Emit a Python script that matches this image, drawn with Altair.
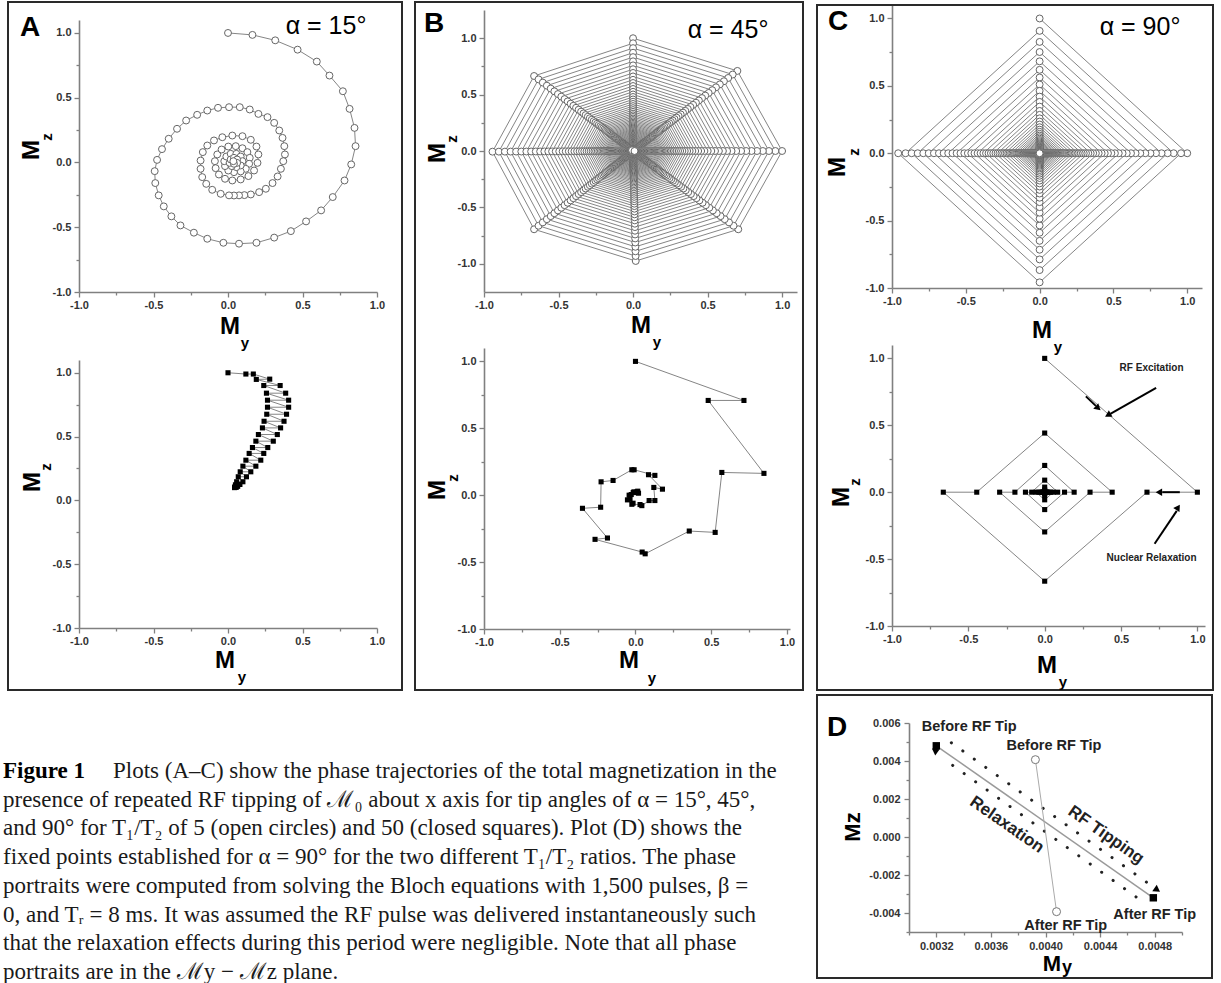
import math
import altair as alt
import pandas as pd

SANS = "Liberation Sans"
SERIF = "Liberation Serif"
AXC = "#808080"
LBL = "#333333"
LINE = "#858585"
CIRC = "#666666"

# ---------------- Panel A : alpha = 15 deg ----------------
A5_my = [0.0, 0.164, 0.317, 0.467, 0.596, 0.681, 0.771, 0.816, 0.849, 0.856, 0.827, 0.782, 0.703, 0.625, 0.524,
         0.422, 0.31, 0.191, 0.074, -0.031, -0.139, -0.229, -0.319, -0.38, -0.431, -0.465, -0.488, -0.492, -0.476,
         -0.443, -0.398, -0.342, -0.281, -0.207, -0.139, -0.067, 0.007, 0.079, 0.146, 0.204, 0.265, 0.31, 0.344,
         0.366, 0.378, 0.382, 0.371, 0.355, 0.333, 0.299, 0.254, 0.209, 0.153, 0.11, 0.074, 0.04, 0.007, -0.049,
         -0.106, -0.146, -0.173, -0.184, -0.184, -0.169, -0.139, -0.094, -0.038, 0.029, 0.097, 0.153, 0.191, 0.204,
         0.198, 0.175, 0.137, 0.085, 0.029, -0.02, -0.061, -0.083, -0.088, -0.072, -0.043, 0.002, 0.052, 0.097,
         0.13, 0.146, 0.142, 0.119, 0.085, 0.04, 0.002, -0.02, -0.025, -0.011, 0.018, 0.056, 0.085, 0.097, 0.085,
         0.056, 0.025, 0.011, 0.018, 0.04, 0.061, 0.061, 0.04, 0.036]
A5_mz = [1.0, 0.985, 0.943, 0.871, 0.779, 0.671, 0.55, 0.414, 0.267, 0.126, -0.015, -0.139, -0.267, -0.37, -0.455,
         -0.53, -0.58, -0.62, -0.627, -0.62, -0.589, -0.542, -0.486, -0.416, -0.339, -0.254, -0.159, -0.067, 0.02,
         0.103, 0.183, 0.26, 0.324, 0.368, 0.401, 0.422, 0.427, 0.427, 0.409, 0.375, 0.35, 0.306, 0.247, 0.19,
         0.126, 0.062, 0.01, -0.049, -0.108, -0.159, -0.203, -0.229, -0.247, -0.252, -0.254, -0.255, -0.254,
         -0.242, -0.211, -0.165, -0.113, -0.049, 0.015, 0.08, 0.131, 0.17, 0.195, 0.208, 0.203, 0.175, 0.123,
         0.062, -0.003, -0.062, -0.105, -0.131, -0.139, -0.126, -0.093, -0.044, 0.01, 0.062, 0.1, 0.123, 0.126,
         0.11, 0.08, 0.036, -0.01, -0.049, -0.069, -0.075, -0.062, -0.028, 0.01, 0.046, 0.067, 0.067, 0.046, 0.01,
         -0.023, -0.036, -0.028, -0.003, 0.023, 0.036, 0.023, -0.003, -0.01, 0.01]

A50_my = [0.0, 0.12, 0.17, 0.28, 0.19, 0.35, 0.24, 0.387, 0.258, 0.407, 0.265, 0.407, 0.265, 0.393, 0.26, 0.376,
          0.242, 0.353, 0.231, 0.331, 0.204, 0.304, 0.187, 0.267, 0.164, 0.24, 0.142, 0.22, 0.12, 0.187, 0.10,
          0.153, 0.082, 0.124, 0.069, 0.10, 0.058, 0.08, 0.05, 0.065, 0.046, 0.055, 0.044]
A50_mz = [1.0, 0.99, 0.99, 0.95, 0.948, 0.90, 0.90, 0.84, 0.84, 0.785, 0.785, 0.73, 0.73, 0.675, 0.675, 0.62,
          0.62, 0.568, 0.568, 0.516, 0.516, 0.464, 0.464, 0.414, 0.414, 0.368, 0.368, 0.315, 0.315, 0.268, 0.268,
          0.224, 0.224, 0.185, 0.185, 0.146, 0.146, 0.125, 0.122, 0.11, 0.106, 0.102, 0.10]

# ---------------- Panel B : alpha = 45 deg ----------------
B5_vert_my = [0.0, 0.70, 1.0, 0.706, 0.018, -0.664, -0.943, -0.664]
B5_vert_mz = [1.0, 0.71, 0.0, -0.694, -0.975, -0.694, -0.006, 0.665]
B5_ring = [1.0, 0.955, 0.912, 0.871, 0.832, 0.795, 0.759, 0.725, 0.692, 0.661, 0.631, 0.603, 0.576, 0.55,
           0.525, 0.501, 0.479, 0.457, 0.437, 0.417, 0.398, 0.38, 0.363, 0.347, 0.331, 0.316, 0.302, 0.288,
           0.275, 0.263, 0.251, 0.24, 0.229, 0.219, 0.209, 0.2, 0.192, 0.184, 0.176, 0.168, 0.16, 0.152, 0.144,
           0.137, 0.13, 0.123, 0.116, 0.11, 0.104, 0.098, 0.092, 0.086, 0.08, 0.075, 0.07, 0.065, 0.06, 0.055,
           0.05, 0.045, 0.04, 0.035, 0.03, 0.026, 0.022, 0.018, 0.014, 0.01]

B50_my = [0.0, 0.716, 0.48, 0.848, 0.57, 0.526, 0.355, 0.064, 0.044, -0.267, -0.185, -0.35, -0.23, -0.227,
          -0.148, -0.024, -0.009, 0.128, 0.086, 0.178, 0.121, 0.128, 0.09, 0.042, 0.03, -0.024, -0.016, -0.053,
          -0.036, -0.042, -0.028, -0.015, -0.01, 0.01, 0.015, 0.02, 0.01, 0.005]
B50_mz = [1.0, 0.708, 0.708, 0.163, 0.17, -0.278, -0.268, -0.438, -0.425, -0.33, -0.32, -0.098, -0.09, 0.10,
          0.11, 0.19, 0.19, 0.148, 0.153, 0.045, 0.058, -0.04, -0.04, -0.078, -0.07, -0.068, -0.06, -0.035,
          -0.03, 0.0, 0.005, 0.02, 0.025, 0.025, 0.03, 0.015, 0.02, 0.02]

# ---------------- Panel C : alpha = 90 deg ----------------
C5_top = [1.0, 0.908, 0.826, 0.751, 0.682, 0.619, 0.562, 0.51, 0.463, 0.42, 0.381, 0.346, 0.314, 0.285, 0.259,
          0.235, 0.213, 0.193, 0.175, 0.159, 0.144, 0.131, 0.119, 0.108, 0.098, 0.089, 0.081, 0.073, 0.066,
          0.06, 0.054, 0.049, 0.044, 0.04, 0.036, 0.032, 0.029, 0.026, 0.023, 0.02, 0.017, 0.014, 0.011, 0.008,
          0.005]
C5_mid = [0.958, 0.867, 0.788, 0.716, 0.65, 0.59, 0.536, 0.486, 0.441, 0.4, 0.363, 0.33, 0.299, 0.272, 0.247,
          0.224, 0.203, 0.184, 0.167, 0.152, 0.138, 0.125, 0.113, 0.103, 0.093, 0.085, 0.077, 0.07, 0.063,
          0.057, 0.051, 0.046, 0.042, 0.038, 0.034, 0.031, 0.027, 0.024, 0.021, 0.018, 0.015, 0.012, 0.009,
          0.006]

C50_my = [0.0, 1.0, 0.67, 0.0, -0.664, -0.445, 0.0, 0.442, 0.297, 0.0, -0.295, -0.195, 0.0, 0.193, 0.13, 0.0,
          -0.126, -0.085, 0.0, 0.085, 0.057, 0.0, -0.057, -0.038, 0.0, 0.038, 0.025, 0.0, -0.025, -0.017, 0.0,
          0.017, 0.011, 0.0, -0.011, -0.007, 0.0]
C50_mz = [1.0, 0.0, 0.0, -0.665, 0.0, 0.0, 0.442, 0.0, 0.0, -0.297, 0.0, 0.0, 0.2, 0.0, 0.0, -0.13, 0.0, 0.0,
          0.09, 0.0, 0.0, -0.057, 0.0, 0.0, 0.038, 0.0, 0.0, -0.025, 0.0, 0.0, 0.017, 0.0, 0.0, -0.011, 0.0,
          0.0, 0.007]

# ---------------- Panel D : fixed points, alpha = 90 deg ----------------
D50_my = [0.0032, 0.00479]
D50_mz = [0.0048, -0.0032]
D5_my = [0.003926, 0.004081]
D5_mz = [0.00407, -0.00393]

CAPTION = [
    "presence of repeated RF tipping of \u2133\u2080 about x axis for tip angles of \u03b1 = 15\u00b0, 45\u00b0,",
    "and 90\u00b0 for T\u2081/T\u2082 of 5 (open circles) and 50 (closed squares). Plot (D) shows the",
    "fixed points established for \u03b1 = 90\u00b0 for the two different T\u2081/T\u2082 ratios. The phase",
    "portraits were computed from solving the Bloch equations with 1,500 pulses, \u03b2 =",
    "0, and T\u1d63 = 8 ms. It was assumed the RF pulse was delivered instantaneously such",
    "that the relaxation effects during this period were negligible. Note that all phase",
    "portraits are in the \u2133y \u2212 \u2133z plane.",
]

# ---------------- helpers ----------------
ONE = alt.Data(values=[{"a": 1}])


def frame_df(my, mz):
    return pd.DataFrame({"My": my, "Mz": mz, "i": list(range(len(my)))})


def mk_axis(orient, vals, base, step, fmt, pad, size=11):
    test = f"abs((datum.value - ({base})) / {step} - round((datum.value - ({base})) / {step})) < 0.001"
    return alt.Axis(orient=orient, values=vals, format=fmt, title=None, grid=False,
                    labelExpr=f"({test}) ? replace(datum.label, '\u2212', '-') : ''",
                    tickSize={"condition": {"test": test, "value": 5}, "value": 3},
                    domainColor=AXC, domainWidth=1.6, tickColor=AXC, tickWidth=1.3,
                    labelFont=SANS, labelFontWeight="bold", labelFontSize=size, labelColor=LBL,
                    labelPadding=pad, labelOverlap=False, labelFlush=False, labelBound=False)


UNIT_VALS = [-1.0, -0.75, -0.5, -0.25, 0.0, 0.25, 0.5, 0.75, 1.0]


def encs(xdom, ydom, xpad=2, ypad=3):
    X = alt.X("My:Q", scale=alt.Scale(domain=xdom, nice=False, zero=False),
              axis=mk_axis("bottom", UNIT_VALS, 0, 0.5, ".1f", xpad))
    Y = alt.Y("Mz:Q", scale=alt.Scale(domain=ydom, nice=False, zero=False),
              axis=mk_axis("left", UNIT_VALS, 0, 0.5, ".1f", ypad))
    return X, Y


def traj_layers(df, X, Y, kind):
    base = alt.Chart(df).encode(x=X, y=Y, order=alt.Order("i:Q"))
    line = base.mark_line(color=LINE, strokeWidth=1)
    if kind == "circle":
        pts = base.mark_point(shape="circle", filled=True, fill="white", stroke=CIRC, strokeWidth=1,
                              size=48, opacity=1)
    else:
        pts = base.mark_square(color="black", size=26, opacity=1)
    return [line, pts]


def txt(text, x, y, size, weight="bold", angle=0, font=SANS, align="center", baseline="middle",
        color="black", style="normal"):
    kw = dict(text=text, font=font, fontSize=size, fontWeight=weight, align=align, baseline=baseline,
              color=color, fontStyle=style)
    if angle:
        kw["angle"] = angle
    return alt.Chart(ONE).mark_text(**kw).encode(x=alt.value(x), y=alt.value(y))


def frame(x1, x2, y1, y2):
    return alt.Chart(ONE).mark_rect(fillOpacity=0, stroke="#2a2a2a", strokeWidth=2).encode(
        x=alt.value(x1), x2=alt.value(x2), y=alt.value(y1), y2=alt.value(y2))


def titles(mx, my_, sx, sy, zx, zy, szx, szy):
    return [txt("M", mx, my_, 24), txt("y", sx, sy, 15),
            txt("M", zx, zy, 24, angle=270), txt("z", szx, szy, 15, angle=270)]


def spacer(w, h):
    return alt.Chart(ONE).mark_point(opacity=0).encode(x=alt.value(0), y=alt.value(0)).properties(
        width=w, height=h)


def arrow_angle(dx, dy, sx, sy):
    return (math.degrees(math.atan2(dx * sx, dy * sy)) + 360) % 360


# ---------------- build trajectories ----------------
dfA5 = frame_df(A5_my, A5_mz)
dfA50 = frame_df(A50_my, A50_mz)

b_my, b_mz = [], []
for s in B5_ring:
    for vx, vz in zip(B5_vert_my, B5_vert_mz):
        b_my.append(round(s * vx, 4))
        b_mz.append(round(s * vz, 4))
b_my.append(0.01)
b_mz.append(0.0)
dfB5 = frame_df(b_my, b_mz)
dfB50 = frame_df(B50_my, B50_mz)

c_my, c_mz = [], []
for j in range(len(C5_mid)):
    r, m, r2 = C5_top[j], C5_mid[j], C5_top[j + 1]
    c_my += [0.0, r, m, 0.0, -m, -r2]
    c_mz += [r, 0.0, 0.0, -m, 0.0, 0.0]
c_my.append(0.0)
c_mz.append(C5_top[-1])
c_my.append(0.0)
c_mz.append(0.0)
dfC5 = frame_df(c_my, c_mz)
dfC50 = frame_df(C50_my, C50_mz)

# ---------------- Panel A ----------------
XA, YA = encs([-1, 1], [-1, 1.1])
A_top = alt.layer(
    frame(-71, 323, -18, 670),
    *traj_layers(dfA5, XA, YA, "circle"),
    txt("A", -49, 8, 28),
    txt("\u03b1 = 15\u00b0", 247, 6, 25, weight="normal"),
    *titles(151, 307, 166, 323, -47, 130, -32, 117),
).properties(width=298, height=272)

XA2, YA2 = encs([-1, 1], [-1, 1.1])
CAP_SIZE = 23
cap_layers = [txt("Figure 1", -76, 411, CAP_SIZE, weight="bold", font=SERIF, align="left"),
              txt("Plots (A\u2013C) show the phase trajectories of the total magnetization in the",
                  34, 411, CAP_SIZE, weight="normal", font=SERIF, align="left", color="#1a1a1a")]
for k, line in enumerate(CAPTION):
    cap_layers.append(txt(line, -76, 411 + 28.7 * (k + 1), CAP_SIZE, weight="normal", font=SERIF,
                          align="left", color="#1a1a1a"))
A_bot = alt.layer(
    *traj_layers(dfA50, XA2, YA2, "square"),
    *titles(146, 301, 163, 317, -46, 122, -33, 107),
    *cap_layers,
).properties(width=298, height=268)

# ---------------- Panel B ----------------
XB, YB = encs([-1, 1.1], [-1.25, 1.25])
B_top = alt.layer(
    frame(-69, 319, -8, 680),
    *traj_layers(dfB5, XB, YB, "circle"),
    txt("B", -50, 14, 28),
    txt("\u03b1 = 45\u00b0", 244, 20, 25, weight="normal"),
    *titles(157, 316, 173, 332, -46, 143, -32, 129),
).properties(width=313, height=282)

XB2, YB2 = encs([-1, 1.02], [-1, 1.1])
B_bot = alt.layer(
    *traj_layers(dfB50, XB2, YB2, "square"),
    *titles(145, 313, 168, 330, -46, 142, -31, 130),
).properties(width=306, height=281)

# ---------------- Panel C ----------------
XC, YC = encs([-1, 1.1], [-1, 1.1])
C_top = alt.layer(
    frame(-75, 321, 0, 685),
    *traj_layers(dfC5, XC, YC, "circle"),
    txt("C", -54, 17, 28),
    txt("\u03b1 = 90\u00b0", 248, 22, 25, weight="normal"),
    *titles(150, 326, 166, 342, -54, 162, -38, 147),
).properties(width=310, height=283)

XC2, YC2 = encs([-1, 1.05], [-1, 1.1])
sxC, syC = 313 / 2.05, 281 / 2.1
shafts_c = pd.DataFrame({
    "My": [0.73, 0.43, 0.72, 0.865, 0.885, 0.77, 0.27, 0.335],
    "Mz": [0.78, 0.585, -0.385, -0.14, 0.0, 0.0, 0.716, 0.645],
    "seg": ["a", "a", "b", "b", "c", "c", "d", "d"],
})
heads_c = pd.DataFrame({
    "My": [0.42, 0.87, 0.755, 0.345],
    "Mz": [0.58, -0.12, 0.0, 0.634],
    "ang": [arrow_angle(-0.31, -0.2, sxC, syC), arrow_angle(0.15, 0.265, sxC, syC),
            arrow_angle(-1.0, 0.0, sxC, syC), arrow_angle(0.078, -0.082, sxC, syC)],
})
texts_c = pd.DataFrame({"My": [0.70, 0.70], "Mz": [0.93, -0.49],
                        "t": ["RF Excitation", "Nuclear Relaxation"]})
C_bot = alt.layer(
    *traj_layers(dfC50, XC2, YC2, "square"),
    alt.Chart(shafts_c).mark_line(color="black", strokeWidth=2).encode(x=XC2, y=YC2, detail="seg:N"),
    alt.Chart(heads_c).mark_point(shape="triangle", filled=True, color="black", size=55, opacity=1).encode(
        x=XC2, y=YC2, angle=alt.Angle("ang:Q", scale=None)),
    alt.Chart(texts_c).mark_text(font=SANS, fontSize=10, fontWeight="bold", color="#222").encode(
        x=XC2, y=YC2, text="t:N"),
    *titles(155, 321, 171, 337, -50, 152, -37, 137),
).properties(width=313, height=281)

# ---------------- Panel D ----------------
DX_VALS = [0.0030, 0.0032, 0.0034, 0.0036, 0.0038, 0.0040, 0.0042, 0.0044, 0.0046, 0.0048, 0.0050]
DY_VALS = [-0.005, -0.004, -0.003, -0.002, -0.001, 0.0, 0.001, 0.002, 0.003, 0.004, 0.005, 0.006]
XD = alt.X("My:Q", scale=alt.Scale(domain=[0.003, 0.005], nice=False, zero=False),
           axis=mk_axis("bottom", DX_VALS, 0.0032, 0.0004, ".4f", 3))
YD = alt.Y("Mz:Q", scale=alt.Scale(domain=[-0.005, 0.006], nice=False, zero=False),
           axis=mk_axis("left", DY_VALS, 0.0, 0.002, ".3f", 4))
sxD, syD = 273 / 0.002, 209 / 0.011
dfD50 = frame_df(D50_my, D50_mz)
dfD5 = frame_df(D5_my, D5_mz)
dots_d = pd.DataFrame({
    "My": [0.00331, 0.00475, 0.00332, 0.00474],
    "Mz": [0.00496, -0.00243, 0.00377, -0.00355],
    "seg": ["u", "u", "l", "l"],
})
heads_d = pd.DataFrame({
    "My": [0.004812, 0.003195],
    "Mz": [-0.00275, 0.00452],
    "ang": [arrow_angle(0.0016, -0.0080, sxD, syD), arrow_angle(-0.0016, 0.0080, sxD, syD)],
})
labels_d = pd.DataFrame({
    "My": [0.003441, 0.004062, 0.004148, 0.0048],
    "Mz": [0.00577, 0.00479, -0.00468, -0.00409],
    "t": ["Before RF Tip", "Before RF Tip", "After RF Tip", "After RF Tip"],
})
diag_d = pd.DataFrame({"My": [0.003717, 0.004443], "Mz": [0.000643, 0.000107],
                       "t": ["Relaxation", "RF Tipping"]})
tilt = math.degrees(math.atan2((0.0048 + 0.0032) * syD, (0.00479 - 0.0032) * sxD))
D_plot = alt.layer(
    frame(-92, 303, -28, 255),
    alt.Chart(dfD50).mark_line(color="#9a9a9a", strokeWidth=1.5).encode(x=XD, y=YD, order="i:Q"),
    alt.Chart(dots_d).mark_line(color="#222", strokeWidth=3, strokeDash=[0.1, 14], strokeCap="round").encode(
        x=XD, y=YD, detail="seg:N"),
    alt.Chart(dfD5).mark_line(color="#aaaaaa", strokeWidth=1).encode(x=XD, y=YD, order="i:Q"),
    alt.Chart(dfD5).mark_point(shape="circle", filled=True, fill="white", stroke="#777", strokeWidth=1,
                               size=64, opacity=1).encode(x=XD, y=YD),
    alt.Chart(dfD50).mark_square(color="black", size=55, opacity=1).encode(x=XD, y=YD),
    alt.Chart(heads_d).mark_point(shape="triangle", filled=True, color="black", size=60, opacity=1).encode(
        x=XD, y=YD, angle=alt.Angle("ang:Q", scale=None)),
    alt.Chart(labels_d).mark_text(font=SANS, fontSize=14.5, fontWeight="bold", color="#222").encode(
        x=XD, y=YD, text="t:N"),
    alt.Chart(diag_d).mark_text(font=SANS, fontSize=17, fontWeight="bold", color="#222",
                                angle=round(tilt, 1)).encode(x=XD, y=YD, text="t:N"),
    txt("D", -72, 5, 28),
    txt("M", 143, 241, 22), txt("y", 158, 245, 18),
    txt("Mz", -56, 104, 22, angle=270),
).properties(width=273, height=209)

# ---------------- layout (flush bounds; nested groups count as zero size) ----------------
colA = alt.vconcat(spacer(298, 15), A_top, spacer(298, 68), A_bot, spacing=0, bounds="flush")
colB = alt.vconcat(spacer(313, 5), B_top, spacer(313, 56), B_bot, spacing=0, bounds="flush")
colC = alt.vconcat(C_top, spacer(313, 57), C_bot, spacer(313, 97),
                   alt.hconcat(spacer(17, 209), D_plot, spacing=0, bounds="flush"),
                   spacing=0, bounds="flush")

chart = alt.hconcat(colA, spacer(405, 1), colB, spacer(408, 1), colC, spacing=0, bounds="flush").properties(
    padding={"left": 3, "top": 1, "right": 2, "bottom": 2},
    background="white",
).configure_view(stroke=None)

chart.save("out.html", embed_options={"renderer": "svg", "actions": False})
